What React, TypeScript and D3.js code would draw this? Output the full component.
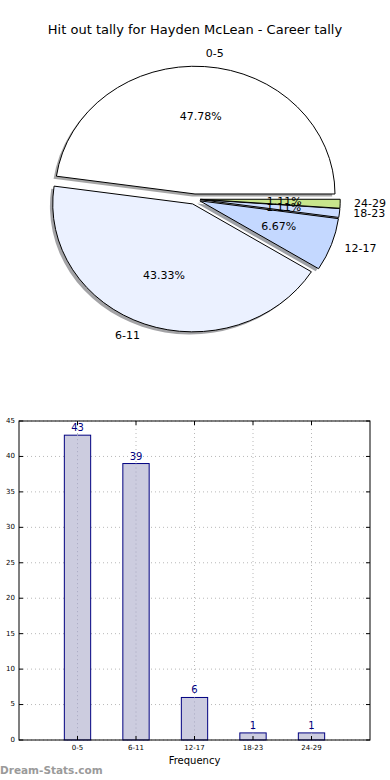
import React from "react";
import * as d3 from "d3";

const CATEGORIES = ["0-5", "6-11", "12-17", "18-23", "24-29"];
const COUNTS = [43, 39, 6, 1, 1];
const PIE_COLORS = ["#ffffff", "#ebf1ff", "#c4d8ff", "#cbdcff", "#c8e68c"];
const Y_TICKS = [0, 5, 10, 15, 20, 25, 30, 35, 40, 45];

const TITLE = "Hit out tally for Hayden McLean - Career tally";
const FONT = "DejaVu Sans, sans-serif";

const W = 390;
const H = 780;

// pie geometry (matplotlib-like, squashed into an ellipse)
const CX = 194.6;
const CY = 199.1;
const RX = 140;
const RY = 128;
const EXPLODE = 0.04;

function PieChart() {
  const total = d3.sum(COUNTS);
  // counter-clockwise from 3 o'clock, like matplotlib
  let acc = 0;
  const slices = COUNTS.map((v, i) => {
    const a0 = (acc / total) * 2 * Math.PI;
    acc += v;
    const a1 = (acc / total) * 2 * Math.PI;
    const mid = (a0 + a1) / 2;
    const cx = CX + Math.cos(mid) * EXPLODE * RX;
    const cy = CY - Math.sin(mid) * EXPLODE * RY;
    return { i, v, a0, a1, mid, cx, cy, pct: (v / total) * 100 };
  });

  // d3.arc measures angles clockwise from 12 o'clock; convert
  const arc = d3.arc<any>().innerRadius(0).outerRadius(1);
  const toD3 = (a: number) => Math.PI / 2 - a;
  const path = (s: any) =>
    arc({ startAngle: toD3(s.a1), endAngle: toD3(s.a0) }) as string;

  const shade = (c: string) => {
    const col = d3.rgb(c);
    return d3.rgb(col.r * 0.3, col.g * 0.3, col.b * 0.3).toString();
  };

  return (
    <g>
      <text x={W / 2} y={30} textAnchor="middle" dominantBaseline="middle" fontSize={13} fontFamily={FONT} fill="#000">
        {TITLE}
      </text>
      {slices.map((s) => (
        <path
          key={"sh" + s.i}
          d={path(s)}
          transform={`translate(${s.cx - 2.8},${s.cy + 2.6}) scale(${RX},${RY})`}
          fill={shade(PIE_COLORS[s.i])}
          fillOpacity={0.5}
          stroke="none"
        />
      ))}
      {slices.map((s) => (
        <path
          key={"w" + s.i}
          d={path(s)}
          transform={`translate(${s.cx},${s.cy}) scale(${RX},${RY})`}
          fill={PIE_COLORS[s.i]}
          stroke="#000"
          strokeWidth={1}
          vectorEffect="non-scaling-stroke"
        />
      ))}
      {slices.map((s) => {
        const lx = s.cx + Math.cos(s.mid) * 1.1 * RX;
        const ly = s.cy - Math.sin(s.mid) * 1.1 * RY;
        return (
          <text
            key={"l" + s.i}
            x={lx}
            y={ly}
            textAnchor={Math.cos(s.mid) > 0 ? "start" : "end"}
            dominantBaseline="middle"
            fontSize={11}
            fontFamily={FONT}
            fill="#000"
          >
            {CATEGORIES[s.i]}
          </text>
        );
      })}
      {slices.map((s) => {
        const px = s.cx + Math.cos(s.mid) * 0.6 * RX;
        const py = s.cy - Math.sin(s.mid) * 0.6 * RY;
        return (
          <text
            key={"p" + s.i}
            x={px}
            y={py}
            textAnchor="middle"
            dominantBaseline="middle"
            fontSize={11}
            fontFamily={FONT}
            fill="#000"
          >
            {s.pct.toFixed(2) + "%"}
          </text>
        );
      })}
    </g>
  );
}

function BarChart() {
  const left = 19;
  const right = 370;
  const top = 421;
  const bottom = 740;
  const x = d3.scaleLinear().domain([-1, 5]).range([left, right]);
  const y = d3.scaleLinear().domain([0, 45]).range([bottom, top]);
  const bw = x(0.45) - x(0);
  const grid = "#b8b8b8";

  return (
    <g>
      {Y_TICKS.map((t) => (
        <line key={"gy" + t} x1={left} x2={right} y1={y(t)} y2={y(t)} stroke={grid} strokeWidth={1} strokeDasharray="1,3" />
      ))}
      {CATEGORIES.map((c, i) => (
        <line key={"gx" + c} x1={x(i)} x2={x(i)} y1={top} y2={bottom} stroke={grid} strokeWidth={1} strokeDasharray="1,3" />
      ))}
      {COUNTS.map((v, i) => (
        <g key={"b" + i}>
          <rect
            x={x(i) - bw / 2}
            y={y(v)}
            width={bw}
            height={y(0) - y(v)}
            fill="#ccccdf"
            stroke="#000080"
            strokeWidth={1}
          />
          <line x1={x(i)} x2={x(i)} y1={y(v)} y2={bottom} stroke="#a8a8c0" strokeWidth={1} strokeDasharray="1,3" />
          <text x={x(i)} y={y(v) - 4} textAnchor="middle" fontSize={10} fontFamily={FONT} fill="#000080">
            {v}
          </text>
        </g>
      ))}
      <rect x={left} y={top} width={right - left} height={bottom - top} fill="none" stroke="#000" strokeWidth={1} />
      {Y_TICKS.map((t) => (
        <g key={"ty" + t}>
          <line x1={left} x2={left + 4} y1={y(t)} y2={y(t)} stroke="#000" />
          <line x1={right - 4} x2={right} y1={y(t)} y2={y(t)} stroke="#000" />
          <text x={left - 4} y={y(t)} textAnchor="end" dominantBaseline="middle" fontSize={7} fontFamily={FONT} fill="#000">
            {t}
          </text>
        </g>
      ))}
      {CATEGORIES.map((c, i) => (
        <g key={"tx" + c}>
          <line x1={x(i)} x2={x(i)} y1={bottom - 4} y2={bottom} stroke="#000" />
          <line x1={x(i)} x2={x(i)} y1={top} y2={top + 4} stroke="#000" />
          <text x={x(i)} y={748} textAnchor="middle" dominantBaseline="middle" fontSize={7} fontFamily={FONT} fill="#000">
            {c}
          </text>
        </g>
      ))}
      <text x={(left + right) / 2} y={761} textAnchor="middle" dominantBaseline="middle" fontSize={10} fontFamily={FONT} fill="#000">
        Frequency
      </text>
      <text x={0} y={771} dominantBaseline="middle" fontSize={10.5} fontWeight="bold" fontFamily={FONT} fill="#9a9a9a">
        Dream-Stats.com
      </text>
    </g>
  );
}

export default function App() {
  return (
    <div style={{ position: "fixed", left: 0, top: 0, width: W, height: H, background: "#fff" }}>
      <svg width={W} height={H} style={{ display: "block" }}>
        <rect width={W} height={H} fill="#fff" />
        <PieChart />
        <BarChart />
      </svg>
    </div>
  );
}
